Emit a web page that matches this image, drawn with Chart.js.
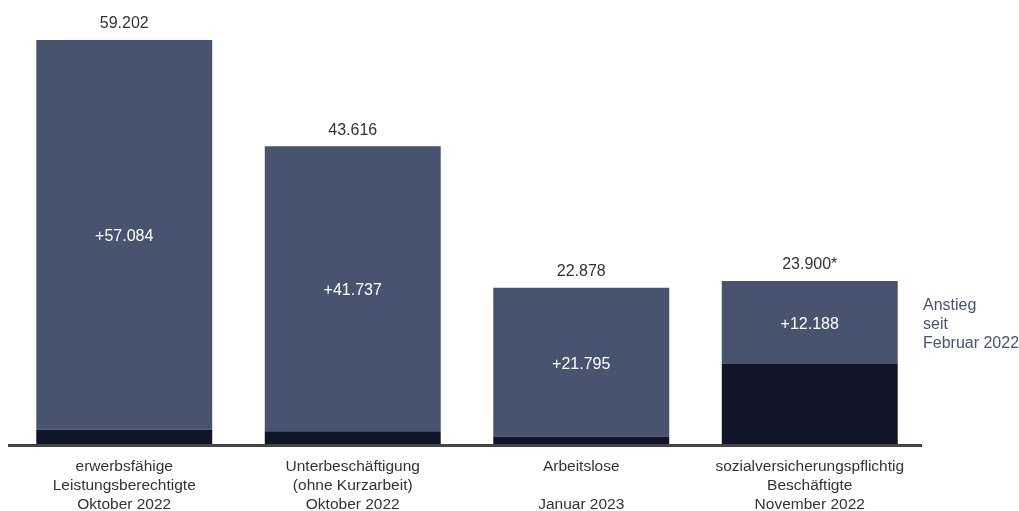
<!DOCTYPE html>
<html>
<head>
<meta charset="utf-8">
<script src="https://cdn.jsdelivr.net/npm/chart.js@4/dist/chart.umd.min.js"></script>
<style>
html,body{margin:0;padding:0;background:#fff;}
#wrap{width:1019px;height:511px;position:relative;}
</style>
</head>
<body>
<div id="wrap"><canvas id="c" width="1019" height="511"></canvas></div>
<script>
const categories = [
  ["erwerbsfähige", "Leistungsberechtigte", "Oktober 2022"],
  ["Unterbeschäftigung", "(ohne Kurzarbeit)", "Oktober 2022"],
  ["Arbeitslose", "", "Januar 2023"],
  ["sozialversicherungspflichtig", "Beschäftigte", "November 2022"]
];
const totals = [59202, 43616, 22878, 23900];
const increases = [57084, 41737, 21795, 12188];
const totalLabels = ["59.202", "43.616", "22.878", "23.900*"];
const increaseLabels = ["+57.084", "+41.737", "+21.795", "+12.188"];
const baseValues = totals.map((t, i) => t - increases[i]);
const sideNote = ["Anstieg", "seit", "Februar 2022"];

const FONT = "'Liberation Sans', Arial, sans-serif";

const labelPlugin = {
  id: 'labelPlugin',
  afterDatasetsDraw(chart) {
    const ctx = chart.ctx;
    const area = chart.chartArea;
    const topMeta = chart.getDatasetMeta(1);
    ctx.save();
    // axis line
    ctx.fillStyle = '#444444';
    ctx.fillRect(area.left - 2, area.bottom, area.right - area.left, 3);
    ctx.font = '16px ' + FONT;
    ctx.textAlign = 'center';
    ctx.textBaseline = 'middle';
    topMeta.data.forEach((bar, i) => {
      ctx.fillStyle = '#333333';
      ctx.fillText(totalLabels[i], bar.x, bar.y - 16);
      ctx.fillStyle = '#ffffff';
      ctx.fillText(increaseLabels[i], bar.x, (bar.y + bar.base) / 2 + 2);
    });
    // side note next to last bar
    const last = topMeta.data[topMeta.data.length - 1];
    const mid = (last.y + last.base) / 2 + 2;
    ctx.textAlign = 'left';
    ctx.fillStyle = '#48536f';
    sideNote.forEach((t, k) => {
      ctx.fillText(t, area.right - 1, mid + (k - 1) * 19);
    });
    ctx.restore();
  }
};

new Chart(document.getElementById('c'), {
  type: 'bar',
  data: {
    labels: categories,
    datasets: [
      { label: 'Basis', data: baseValues, backgroundColor: '#10152a', borderWidth: 0 },
      { label: 'Anstieg', data: increases, backgroundColor: '#48536f', borderWidth: 0 }
    ]
  },
  options: {
    responsive: false,
    animation: false,
    devicePixelRatio: 1,
    layout: { padding: { left: 10, right: 95, top: 34.5, bottom: 0 } },
    plugins: { legend: { display: false }, tooltip: { enabled: false } },
    datasets: { bar: { barPercentage: 0.77, categoryPercentage: 1.0 } },
    scales: {
      x: {
        stacked: true,
        grid: { display: false, drawTicks: false },
        border: { display: false },
        ticks: {
          color: '#333333',
          font: { family: FONT, size: 15.5, lineHeight: '19px' },
          padding: 13,
          maxRotation: 0,
          autoSkip: false
        },
        afterFit(scale) { scale.height = 67; }
      },
      y: {
        stacked: true,
        display: false,
        min: 0,
        max: 60000
      }
    }
  },
  plugins: [labelPlugin]
});
</script>
</body>
</html>
